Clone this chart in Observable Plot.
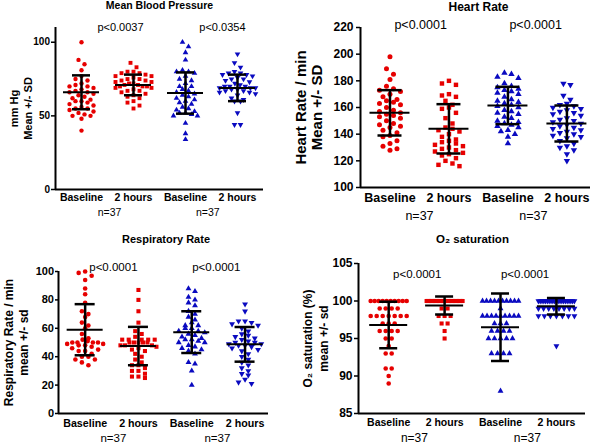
<!DOCTYPE html>
<html><head><meta charset="utf-8">
<script src="https://cdn.jsdelivr.net/npm/d3@7"></script>
<script src="https://cdn.jsdelivr.net/npm/@observablehq/plot@0.6"></script>
<style>
body{margin:0;background:#fff;}
#wrap{position:relative;width:600px;height:445px;overflow:hidden;background:#fff;}
#wrap svg{position:absolute;}
</style></head><body><div id="wrap"></div>
<script>
const categories = ["Baseline", "2 hours", "Baseline", "2 hours"];
const nLabels = ["n=37", "n=37"];

// Mean Blood Pressure (mm Hg)
const mbpRedBaseline = [100,88,85,81,77,75,74,72,71,70,70,69,68,67,66,66,65,64,63,62,61,60,60,59,58,57,56,55,55,54,53,52,51,50,50,48,40];
const mbpRed2h = [86,83,80,80,79,79,78,77,77,76,75,75,74,74,73,73,72,72,71,71,70,70,70,69,69,68,67,67,66,65,64,63,62,60,59,57,55];
const mbpBlueBaseline = [100,97,93,88,81,80,80,79,77,75,74,72,70,70,68,67,66,65,64,63,62,61,60,59,58,56,55,54,53,52,52,51,50,50,45,38,34];
const mbpBlue2h = [92,86,83,80,79,79,78,78,77,76,75,75,74,73,72,71,70,70,70,69,69,69,68,68,67,67,66,66,65,64,62,61,60,60,52,44,44];
const mbpMean = [66, 71, 65.5, 69];
const mbpSD = [11.5, 7, 14, 9];
const mbpP = ["p<0.0037", "p<0.0354"];

// Heart Rate (/min)
const hrRedBaseline = [198,189,185,181,176,174,173,172,170,168,166,165,164,163,162,160,158,157,156,155,154,153,152,150,148,147,146,145,143,141,139,138,135,133,131,129,128];
const hrRed2h = [180,178,177,170,169,168,165,162,160,159,156,152,148,145,144,143,142,140,138,136,135,134,133,132,131,130,129,128,127,126,125,124,122,120,118,117,116];
const hrBlueBaseline = [186,185,183,182,178,176,175,174,173,172,171,170,168,166,165,164,163,162,161,160,158,157,156,155,153,152,150,149,148,147,146,145,143,142,140,138,133];
const hrBlue2h = [178,177,169,166,163,162,161,160,159,158,157,156,155,154,152,151,150,149,148,147,146,145,144,143,142,141,140,139,138,137,135,133,131,130,128,125,120];
const hrMean = [156, 144, 161.5, 148];
const hrSD = [17, 18.5, 14, 13.5];
const hrP = ["p<0.0001", "p<0.0001"];

// Respiratory Rate (/min)
const rrRedBaseline = [100,99,97,94,88,84,78,72,70,68,64,62,60,56,53,52,51,50,50,50,50,49,49,48,48,47,46,45,44,44,42,40,40,38,38,36,34];
const rrRed2h = [87,80,72,64,58,56,54,52,52,52,52,52,50,50,50,50,50,48,48,48,47,46,45,44,42,40,38,36,34,34,32,30,30,28,26,26,25];
const rrBlueBaseline = [88,86,82,80,78,76,72,70,68,66,64,62,62,60,60,58,58,57,56,55,54,53,52,52,51,50,50,48,47,46,45,44,42,36,35,30,20];
const rrBlue2h = [77,72,65,65,64,63,62,60,58,56,55,54,53,52,51,50,50,49,49,48,48,47,46,45,44,42,40,38,36,34,32,30,28,27,24,22,21];
const rrMean = [59, 47.5, 57.3, 48.7];
const rrSD = [18, 13.5, 14.7, 12.2];
const rrP = ["p<0.0001", "p<0.0001"];

// O2 saturation (%)
const o2RedBaseline = [100,100,100,100,100,100,100,100,100,100,99,99,99,99,98,98,98,98,98,98,98,97,97,97,96,96,96,96,95,95,94,93,93,91,91,90,89];
const o2Red2h = [100,100,100,100,100,100,100,100,100,100,100,100,100,100,100,100,100,100,100,100,100,100,100,100,100,100,100,100,99,99,98,98,98,97,97,96,95];
const o2BlueBaseline = [100,100,100,100,100,100,100,100,100,100,99,98,98,98,98,98,98,98,98,98,97,97,97,96,96,96,96,95,95,95,95,95,93,93,93,93,88];
const o2Blue2h = [100,100,100,100,100,100,100,100,100,100,100,100,100,100,100,100,100,100,100,100,100,99,99,99,99,99,99,99,99,98,98,98,98,98,98,98,94];
const o2Mean = [96.8, 99.4, 96.5, 99.3];
const o2SD = [3.1, 1.2, 4.5, 1.1];
const o2P = ["p<0.0001", "p<0.0001"];

const RED = "#e60000", BLUE = "#0a0ac0";
const FONT = "'Liberation Sans', Arial, sans-serif";

function scatterLayout(groups, ppuY, ppuX, sym, gap, maxW) {
  const out = [];
  groups.forEach((vals, g) => {
    const sorted = vals.slice().sort((a, b) => b - a);
    const rows = []; let cur = null;
    for (const v of sorted) {
      if (cur && (cur.start - v) * ppuY < sym) cur.items.push(v);
      else { cur = {start: v, items: [v]}; rows.push(cur); }
    }
    for (const row of rows) {
      const n = row.items.length;
      const sp = n > 1 ? Math.min(gap, maxW / (n - 1)) : 0;
      const slots = d3.range(n).map(i => i - (n - 1) / 2).sort((a, b) => Math.abs(a) - Math.abs(b) || a - b);
      row.items.forEach((v, i) => out.push({g, v, x: g + slots[i] * sp / ppuX}));
    }
  });
  return out;
}

function panel(cfg) {
  const iw = cfg.w - cfg.mL - cfg.mR, ih = cfg.h - cfg.mT - cfg.mB;
  const ppuX = iw / (cfg.xDom[1] - cfg.xDom[0]);
  const ppuY = ih / (cfg.yDom[1] - cfg.yDom[0]);
  const pts = scatterLayout(cfg.groups, ppuY, ppuX, cfg.sym, cfg.gap, cfg.maxW);
  const stats = cfg.mean.map((m, g) => ({g, m, s: cfg.sd[g]}));
  const mh = cfg.meanHalf / ppuX, ch = cfg.capHalf / ppuX;
  const styles = [
    {symbol: "circle", fill: RED, rotate: 0, r: cfg.r},
    {symbol: "square", fill: RED, rotate: 0, r: cfg.r},
    {symbol: "triangle", fill: BLUE, rotate: 0, r: cfg.r * 0.95},
    {symbol: "triangle", fill: BLUE, rotate: 180, r: cfg.r * 0.95}
  ];
  const svg = Plot.plot({
    width: cfg.w, height: cfg.h,
    marginLeft: cfg.mL, marginRight: cfg.mR, marginTop: cfg.mT, marginBottom: cfg.mB,
    x: {domain: cfg.xDom},
    y: {domain: cfg.yDom},
    style: {fontFamily: FONT, background: "transparent", overflow: "visible", color: "black"},
    marks: [
      ...styles.map((st, g) => Plot.dot(pts.filter(d => d.g === g), {
        x: "x", y: "v", symbol: st.symbol, fill: st.fill, stroke: "none", r: st.r, rotate: st.rotate
      })),
      Plot.ruleX(stats, {x: "g", y1: d => d.m - d.s, y2: d => d.m + d.s, strokeWidth: 2.5, stroke: "black"}),
      Plot.ruleY(stats, {y: "m", x1: d => d.g - mh, x2: d => d.g + mh, strokeWidth: 2, stroke: "black"}),
      Plot.ruleY(stats, {y: d => d.m + d.s, x1: d => d.g - ch, x2: d => d.g + ch, strokeWidth: 2.5, stroke: "black"}),
      Plot.ruleY(stats, {y: d => d.m - d.s, x1: d => d.g - ch, x2: d => d.g + ch, strokeWidth: 2.5, stroke: "black"}),
      Plot.ruleX([cfg.xDom[0]], {strokeWidth: 2, stroke: "black"}),
      Plot.ruleY([cfg.yDom[0]], {strokeWidth: 2, stroke: "black"}),
      Plot.axisY({ticks: cfg.yTicks, tickSize: cfg.tickSize, tickPadding: cfg.tickPad, strokeWidth: 1.5,
        fontWeight: "bold", fontSize: cfg.yTickFont, label: null}),
      Plot.axisX({ticks: [0, 1, 2, 3], tickFormat: i => categories[i], tickSize: 0, tickPadding: cfg.xPad,
        fontWeight: "bold", fontSize: cfg.xFont, label: null}),
      Plot.text(cfg.p, {x: (d, i) => cfg.pX[i], text: d => d, frameAnchor: "top", dy: cfg.pDy,
        lineAnchor: "middle", fontSize: cfg.pFont}),
      Plot.text(nLabels, {x: (d, i) => cfg.nX[i], text: d => d, frameAnchor: "bottom", dy: cfg.nDy,
        lineAnchor: "middle", fontSize: cfg.nFont}),
      Plot.text([cfg.title], {text: d => d, frameAnchor: "top-left", dx: cfg.tDx, dy: cfg.tDy,
        textAnchor: "middle", lineAnchor: "middle", fontWeight: "bold", fontSize: cfg.tFont}),
      Plot.text([cfg.ylabel], {text: d => d, frameAnchor: "left", dx: cfg.ylDx, rotate: -90,
        textAnchor: "middle", lineAnchor: "middle", lineHeight: cfg.ylLH, fontWeight: "bold", fontSize: cfg.ylFont})
    ]
  });
  svg.style.left = cfg.left + "px";
  svg.style.top = cfg.top + "px";
  document.getElementById("wrap").appendChild(svg);
}

panel({
  left: 0, top: 0, w: 300, h: 220, mL: 55, mR: 37, mT: 27, mB: 31,
  xDom: [-0.5, 3.5], yDom: [0, 110], yTicks: [0, 50, 100],
  groups: [mbpRedBaseline, mbpRed2h, mbpBlueBaseline, mbpBlue2h], mean: mbpMean, sd: mbpSD, p: mbpP,
  title: "Mean Blood Pressure", tFont: 10.5, tDx: 104, tDy: -21.5,
  ylabel: "mm Hg\nMean +/- SD", ylFont: 11, ylLH: 1.3, ylDx: -35,
  yTickFont: 10, tickSize: 4, tickPad: 1.5, xFont: 10.5, xPad: 4,
  pFont: 11, pX: [0.75, 2.71], pDy: 0, nFont: 10.5, nX: [0.54, 2.43], nDy: 23,
  r: 2.2, sym: 4.5, gap: 6, maxW: 36, meanHalf: 18, capHalf: 9
});
panel({
  left: 300, top: 0, w: 300, h: 220, mL: 60, mR: 10, mT: 27, mB: 33,
  xDom: [-0.5, 3.4], yDom: [100, 220], yTicks: [100, 120, 140, 160, 180, 200, 220],
  groups: [hrRedBaseline, hrRed2h, hrBlueBaseline, hrBlue2h], mean: hrMean, sd: hrSD, p: hrP,
  title: "Heart Rate", tFont: 12, tDx: 118, tDy: -20.5,
  ylabel: "Heart Rate / min\nMean +/- SD", ylFont: 15, ylLH: 1.1, ylDx: -52,
  yTickFont: 12, tickSize: 4, tickPad: 3, xFont: 12.5, xPad: 6,
  pFont: 12.5, pX: [0.52, 2.47], pDy: -3, nFont: 12.5, nX: [0.5, 2.43], nDy: 28,
  r: 2.5, sym: 5.5, gap: 7, maxW: 40, meanHalf: 20, capHalf: 12
});
panel({
  left: 0, top: 220, w: 300, h: 225, mL: 58, mR: 32, mT: 51, mB: 32,
  xDom: [-0.5, 3.44], yDom: [0, 100], yTicks: [0, 20, 40, 60, 80, 100],
  groups: [rrRedBaseline, rrRed2h, rrBlueBaseline, rrBlue2h], mean: rrMean, sd: rrSD, p: rrP,
  title: "Respiratory Rate", tFont: 11, tDx: 107.5, tDy: -32,
  ylabel: "Respiratory Rate / min\nmean +/- sd", ylFont: 12, ylLH: 1.25, ylDx: -43,
  yTickFont: 11, tickSize: 3, tickPad: 1.5, xFont: 10.7, xPad: 5.5,
  pFont: 11.5, pX: [0.53, 2.46], pDy: -4, nFont: 11.5, nX: [0.53, 2.48], nDy: 25,
  r: 2.3, sym: 5, gap: 6.5, maxW: 36, meanHalf: 18, capHalf: 10
});
panel({
  left: 300, top: 220, w: 300, h: 225, mL: 58, mR: 15, mT: 43, mB: 32,
  xDom: [-0.54, 3.52], yDom: [85, 105], yTicks: [85, 90, 95, 100, 105],
  groups: [o2RedBaseline, o2Red2h, o2BlueBaseline, o2Blue2h], mean: o2Mean, sd: o2SD, p: o2P,
  title: "O₂ saturation", tFont: 11.5, tDx: 114, tDy: -24,
  ylabel: "O₂ saturation (%)\nmean +/- sd", ylFont: 12, ylLH: 1.33, ylDx: -44,
  yTickFont: 12, tickSize: 4, tickPad: 2, xFont: 10.5, xPad: 5.5,
  pFont: 11.5, pX: [0.51, 2.44], pDy: 11, nFont: 12, nX: [0.46, 2.48], nDy: 25,
  r: 2.3, sym: 5, gap: 6, maxW: 36, meanHalf: 19, capHalf: 9
});
</script></body></html>
